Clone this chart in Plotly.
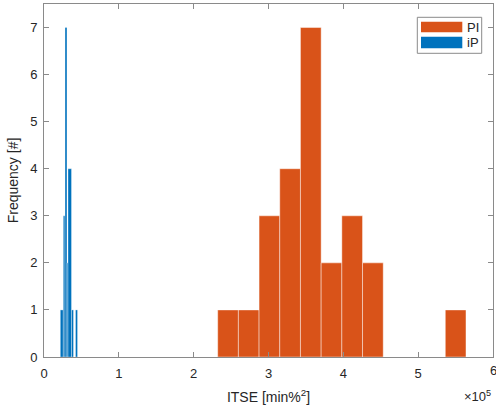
import plotly.graph_objects as go

# ---- data (ITSE in units of 1e5 min%^2) ----
pi_bin_start = 2.321
pi_bin_width = 0.2765
pi_counts = [1, 1, 3, 4, 7, 2, 3, 2, 0, 0, 0, 1]

ip_edges = [0.218, 0.258, 0.281, 0.307, 0.321, 0.3675, 0.394, 0.421, 0.448]
ip_counts = [1, 3, 7, 2, 4, 1, 0, 1]

x_ticks = [0, 1, 2, 3, 4, 5, 6]
y_ticks = [0, 1, 2, 3, 4, 5, 6, 7]

ORANGE = "#D95319"
BLUE = "#0072BD"
TXT = "#262626"
AX = "#8a8a8a"

pi_x = [pi_bin_start + (i + 0.5) * pi_bin_width for i in range(len(pi_counts))]
pi_w = [pi_bin_width] * len(pi_counts)
ip_x = [(ip_edges[i] + ip_edges[i + 1]) / 2 for i in range(len(ip_counts))]
ip_w = [ip_edges[i + 1] - ip_edges[i] for i in range(len(ip_counts))]

fig = go.Figure()
fig.add_trace(go.Bar(x=pi_x, y=pi_counts, width=pi_w, name="PI",
                     marker=dict(color=ORANGE, line=dict(color="rgba(255,255,255,0.55)", width=0.8)),
                     showlegend=False))
fig.add_trace(go.Bar(x=ip_x, y=ip_counts, width=ip_w, name="iP",
                     marker=dict(color=BLUE, line=dict(color="rgba(255,255,255,0.55)", width=0.6)),
                     showlegend=False))

W, H = 496, 409
L, R, T, B = 44, 3, 4, 52
PW, PH = W - L - R, H - T - B


def px(xp):
    return (xp - L) / PW


def py(yp):
    return (H - B - yp) / PH


# legend drawn manually (wide swatches like the reference)
shapes = [
    dict(type="rect", xref="paper", yref="paper", x0=px(417.3), x1=px(481.7), y0=py(53.3), y1=py(17.3),
         line=dict(color=AX, width=1), fillcolor="white", layer="above"),
    dict(type="rect", xref="paper", yref="paper", x0=px(421), x1=px(462.3), y0=py(32.3), y1=py(21.7),
         line=dict(width=0), fillcolor=ORANGE, layer="above"),
    dict(type="rect", xref="paper", yref="paper", x0=px(421), x1=px(462.3), y0=py(48.3), y1=py(36.7),
         line=dict(width=0), fillcolor=BLUE, layer="above"),
]
annotations = [
    dict(text="PI", xref="paper", yref="paper", x=px(464.5), y=py(27), xanchor="left", yanchor="middle",
         showarrow=False, font=dict(size=13, color=TXT)),
    dict(text="iP", xref="paper", yref="paper", x=px(464.5), y=py(42.5), xanchor="left", yanchor="middle",
         showarrow=False, font=dict(size=13, color=TXT)),
    dict(text="×10<sup>5</sup>", xref="paper", yref="paper", x=1.0, y=py(396), xanchor="right",
         yanchor="middle", showarrow=False, font=dict(size=13, color=TXT)),
    # last tick label (clipped at the window edge in the reference)
    dict(text=str(x_ticks[-1]), xref="x", yref="paper", x=x_ticks[-1], y=py(370), xanchor="center",
         yanchor="middle", showarrow=False, font=dict(size=13, color=TXT)),
]

fig.update_layout(
    width=W, height=H,
    margin=dict(l=L, r=R, t=T, b=B),
    paper_bgcolor="white", plot_bgcolor="white",
    barmode="overlay",
    font=dict(family="Liberation Sans, Arial, sans-serif", size=13, color=TXT),
    shapes=shapes, annotations=annotations,
    xaxis=dict(range=[0, 6], tickvals=x_ticks[:-1], ticktext=[str(v) for v in x_ticks[:-1]],
               showline=True, linecolor=AX, linewidth=1, mirror="ticks",
               ticks="inside", ticklen=5, tickcolor=AX, showgrid=False, zeroline=False,
               ticklabelstandoff=4,
               title=dict(text="ITSE [min%<sup>2</sup>]", standoff=12, font=dict(size=14))),
    yaxis=dict(range=[0, 7.5], tickvals=y_ticks,
               showline=True, linecolor=AX, linewidth=1, mirror="ticks",
               ticks="inside", ticklen=5, tickcolor=AX, showgrid=False, zeroline=False,
               ticklabelstandoff=3,
               title=dict(text="Frequency [#]", standoff=8, font=dict(size=14))),
)

fig.write_html("out.html")
